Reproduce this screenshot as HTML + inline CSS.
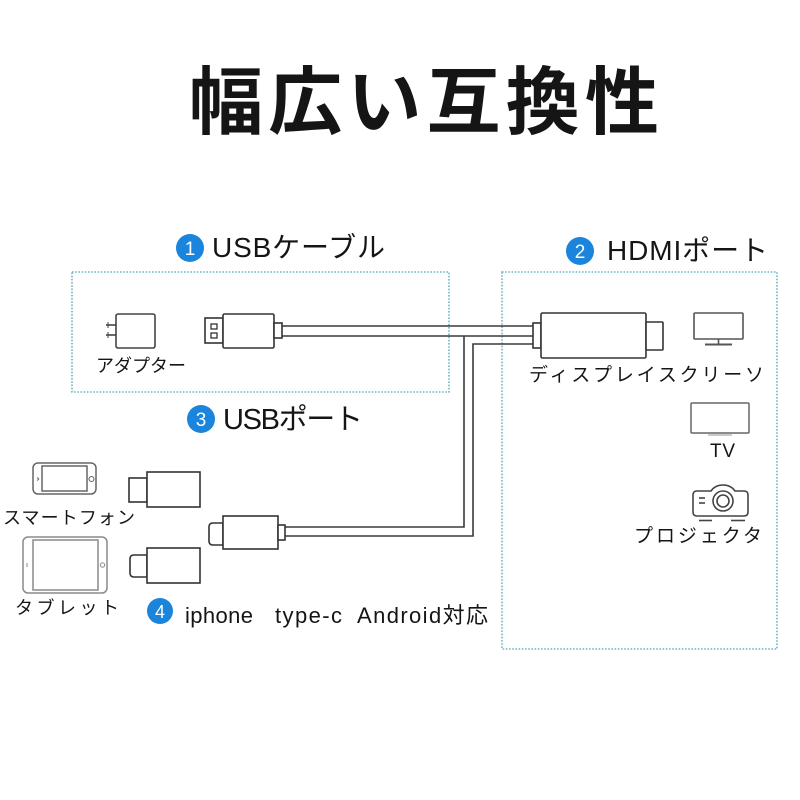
<!DOCTYPE html>
<html>
<head>
<meta charset="utf-8">
<style>
html,body{margin:0;padding:0;background:#fff;}
svg{display:block;}
text{font-family:"Liberation Sans","Noto Sans CJK JP",sans-serif;fill:#151515;}
.jp{font-family:"Noto Sans CJK JP","Liberation Sans",sans-serif;}
</style>
</head>
<body>
<svg width="800" height="800" viewBox="0 0 800 800" xmlns="http://www.w3.org/2000/svg">
<rect width="800" height="800" fill="#fff"/>

<!-- Title -->
<text class="jp" x="189" y="128" font-size="74" font-weight="bold" fill="#000" textLength="470" lengthAdjust="spacing">幅広い互換性</text>

<!-- Dotted boxes -->
<rect x="72" y="272" width="377" height="120" fill="none" stroke="#6fb6c6" stroke-width="1.6" stroke-dasharray="1.6 1.6"/>
<rect x="502" y="272" width="275" height="377" fill="none" stroke="#6fb6c6" stroke-width="1.6" stroke-dasharray="1.6 1.6"/>

<!-- Badges -->
<g>
<circle cx="190" cy="248" r="14" fill="#1b84dc"/>
<text x="190" y="255" font-size="19" text-anchor="middle" fill="#fff" style="fill:#fff">1</text>
<circle cx="580" cy="251" r="14" fill="#1b84dc"/>
<text x="580" y="258" font-size="19" text-anchor="middle" style="fill:#fff">2</text>
<circle cx="201" cy="419" r="14" fill="#1b84dc"/>
<text x="201" y="426" font-size="19" text-anchor="middle" style="fill:#fff">3</text>
<circle cx="160" cy="611" r="13" fill="#1b84dc"/>
<text x="160" y="618" font-size="18" text-anchor="middle" style="fill:#fff">4</text>
</g>

<!-- Headings -->
<text x="212" y="257" font-size="28" textLength="173" lengthAdjust="spacing">USBケーブル</text>
<text x="607" y="260" font-size="28" textLength="161" lengthAdjust="spacing">HDMIポート</text>
<text x="223" y="429" font-size="29" textLength="140" lengthAdjust="spacing">USBポート</text>
<text x="185" y="623" font-size="22" textLength="68" lengthAdjust="spacing">iphone</text>
<text x="275" y="623" font-size="22" textLength="67" lengthAdjust="spacing">type-c</text>
<text x="357" y="623" font-size="22" textLength="131" lengthAdjust="spacing">Android対応</text>

<!-- Labels -->
<text class="jp" x="96" y="372" font-size="18" textLength="90" lengthAdjust="spacing">アダプター</text>
<text class="jp" x="529" y="381" font-size="19" textLength="235" lengthAdjust="spacing">ディスプレイスクリーソ</text>
<text class="jp" x="3" y="524" font-size="18" textLength="132" lengthAdjust="spacing">スマートフォン</text>
<text class="jp" x="15" y="614" font-size="18" textLength="104" lengthAdjust="spacing">タブレット</text>
<text x="710" y="457" font-size="19" textLength="25" lengthAdjust="spacing">TV</text>
<text class="jp" x="634" y="542" font-size="19" textLength="128" lengthAdjust="spacing">プロジェクタ</text>

<!-- Cables -->
<g fill="none" stroke="#3a3a3a" stroke-width="1.6">
<line x1="282" y1="326" x2="533" y2="326"/>
<line x1="282" y1="336" x2="533" y2="336"/>
<path d="M464 336 V527 H285"/>
<path d="M533 344 H473 V536 H285"/>
</g>

<!-- Adapter -->
<g fill="#fff" stroke="#444" stroke-width="1.6">
<rect x="116" y="314" width="39" height="34" rx="2"/>
<line x1="106" y1="325" x2="116" y2="325"/>
<line x1="106" y1="335" x2="116" y2="335"/>
<line x1="108" y1="322" x2="108" y2="328" stroke-width="1"/>
<line x1="108" y1="332" x2="108" y2="338" stroke-width="1"/>
</g>

<!-- USB plug -->
<g fill="#fff" stroke="#333" stroke-width="1.6">
<rect x="205" y="318" width="18" height="25"/>
<rect x="211" y="324" width="6" height="5" stroke-width="1.3"/>
<rect x="211" y="333" width="6" height="5" stroke-width="1.3"/>
<rect x="223" y="314" width="51" height="34" rx="1.5"/>
<rect x="274" y="323" width="8" height="15"/>
</g>

<!-- HDMI plug -->
<g fill="#fff" stroke="#333" stroke-width="1.6">
<rect x="533" y="323" width="8" height="25"/>
<rect x="541" y="313" width="105" height="45" rx="1.5"/>
<rect x="646" y="322" width="17" height="28" rx="1"/>
</g>

<!-- Bottom connectors -->
<g fill="#fff" stroke="#333" stroke-width="1.6">
<!-- top small connector -->
<rect x="129" y="478" width="18" height="24"/>
<rect x="147" y="472" width="53" height="35"/>
<!-- bottom small connector -->
<path d="M147 555 H134 Q130 555 130 559 V573 Q130 577 134 577 H147 Z"/>
<rect x="147" y="548" width="53" height="35"/>
<!-- main cable connector -->
<path d="M223 523 H213 Q209 523 209 527 V541 Q209 545 213 545 H223 Z"/>
<rect x="223" y="516" width="55" height="33"/>
<rect x="278" y="525" width="7" height="15"/>
</g>

<!-- Phone icon -->
<g fill="none" stroke="#666" stroke-width="1.5">
<rect x="33" y="463" width="63" height="31" rx="5"/>
<rect x="42" y="466" width="45" height="25"/>
<circle cx="91.5" cy="479" r="2.5" stroke-width="1.1"/>
<path d="M39 479 L37 477.5 M39 479 L37 480.5" stroke-width="1"/>
</g>

<!-- Tablet icon -->
<g fill="none" stroke="#8a8a8a" stroke-width="1.5">
<rect x="23" y="537" width="84" height="56" rx="5"/>
<rect x="33" y="540" width="65" height="50"/>
<circle cx="102.5" cy="565" r="2.2" stroke-width="1"/>
<line x1="27" y1="563" x2="27" y2="567" stroke-width="1"/>
</g>

<!-- Monitor icon -->
<g fill="none" stroke="#555" stroke-width="1.6">
<rect x="694" y="313" width="49" height="26" rx="1"/>
<line x1="718.5" y1="339" x2="718.5" y2="344"/>
<line x1="705" y1="344.5" x2="732" y2="344.5" stroke-width="2"/>
</g>

<!-- TV icon -->
<g fill="none" stroke="#666" stroke-width="1.5">
<rect x="691" y="403" width="58" height="30" rx="1"/>
<line x1="708" y1="435" x2="732" y2="435" stroke="#aaa" stroke-width="1.2"/>
</g>

<!-- Projector icon -->
<g fill="none" stroke="#444" stroke-width="1.6">
<path d="M697 491 H711 Q715 485 723 485 Q731 485 735 491 H744 Q748 491 748 495 V512 Q748 516 744 516 H697 Q693 516 693 512 V495 Q693 491 697 491 Z"/>
<circle cx="723" cy="501" r="10"/>
<circle cx="723" cy="501" r="6"/>
<line x1="699" y1="498" x2="705" y2="498"/>
<line x1="699" y1="503" x2="705" y2="503"/>
<line x1="699" y1="520.5" x2="712" y2="520.5"/>
<line x1="731" y1="520.5" x2="745" y2="520.5"/>
</g>
</svg>
</body>
</html>
